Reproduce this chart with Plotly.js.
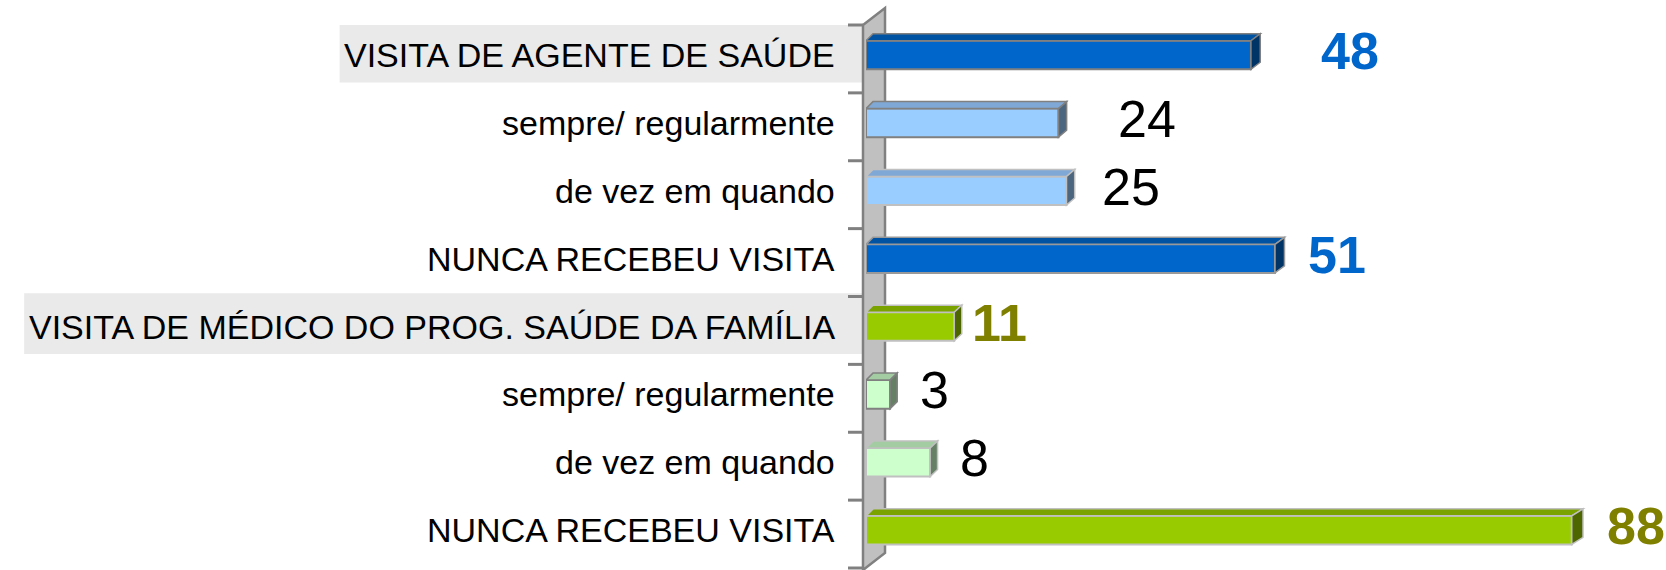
<!DOCTYPE html>
<html>
<head>
<meta charset="utf-8">
<script src="https://cdn.plot.ly/plotly-3.0.1.min.js"></script>
<style>html,body{margin:0;padding:0;background:#fff;}#chart{width:1666px;height:570px;}</style>
</head>
<body>
<div id="chart"></div>
<script>
// ---- data ----
const categories = [
  "VISITA DE AGENTE DE SAÚDE",
  "sempre/ regularmente",
  "de vez em quando",
  "NUNCA RECEBEU VISITA",
  "VISITA DE MÉDICO DO PROG. SAÚDE DA FAMÍLIA",
  "sempre/ regularmente",
  "de vez em quando",
  "NUNCA RECEBEU VISITA"
];
const values = [48, 24, 25, 51, 11, 3, 8, 88];
const headerRows = [0, 4];

// ---- styles ----
const frontColors = ["#0066CC", "#99CCFF", "#99CCFF", "#0066CC", "#99CC00", "#CCFFCC", "#CCFFCC", "#99CC00"];
const topColors   = ["#0052A3", "#7FA8D6", "#7FA8D6", "#0052A3", "#7AA300", "#A3CCA3", "#A3CCA3", "#7AA300"];
const sideColors  = ["#003366", "#4D6680", "#4D6680", "#003366", "#4D6600", "#668066", "#668066", "#4D6600"];
const borderColors = ["#808080", "#808080", "#C0C0C0", "#999999", "#C0C0C0", "#808080", "#C0C0C0", "#C0C0C0"];
const labelColors = ["#0066CC", "#000000", "#000000", "#0066CC", "#808000", "#000000", "#000000", "#808000"];
const labelBold = [true, false, false, true, true, false, false, true];
const labelGap = [68, 58, 33, 31, 16, 28, 28, 33];

const idx = categories.map((_, i) => i);
const PX_PER_X = 800 / 99.75;
const PX_PER_Y = 543 / 8;
const barW = 0.42;
const plotLeft = 866, plotTop = 25, plotW = 800, plotH = 543;
const px2paperX = p => (p - plotLeft) / plotW;
const px2paperY = p => 1 - (p - plotTop) / plotH;

const shapes = [];
const annotations = [];

// header backgrounds
const cv = document.createElement('canvas').getContext('2d');
cv.font = "34px 'Liberation Sans'";
headerRows.forEach(i => {
  const w = cv.measureText(categories[i]).width;
  shapes.push({type: 'rect', layer: 'below', xref: 'paper', yref: 'y',
    x0: px2paperX(837 - w - 3), x1: px2paperX(862), y0: i - 0.49, y1: i + 0.405,
    fillcolor: '#EAEAEA', line: {width: 0}});
});

// 3D wall
const wallPts = [[863, 25], [885, 8], [885, 553], [863, 570]];
shapes.push({type: 'path', layer: 'below', xref: 'paper', yref: 'paper',
  path: 'M' + wallPts.map(p => px2paperX(p[0]) + ',' + px2paperY(p[1])).join(' L') + ' Z',
  fillcolor: '#C0C0C0', line: {color: '#808080', width: 2.5}});

// ticks at category boundaries
for (let k = 0; k <= categories.length; k++) {
  const y = 1 - k / categories.length;
  shapes.push({type: 'line', xref: 'paper', yref: 'paper', x0: px2paperX(848), x1: px2paperX(863),
    y0: y, y1: y, line: {color: '#808080', width: 3}});
}

// 3D faces of bars
const dy = 7 / PX_PER_Y;
values.forEach((v, i) => {
  const yT = i - barW / 2, yB = i + barW / 2;
  const dxL = 7 / PX_PER_X;
  const dxR = (7 + 0.006 * v * PX_PER_X) / PX_PER_X;
  shapes.push({type: 'path', layer: 'above', xref: 'x', yref: 'y',
    path: `M0,${yT} L${v},${yT} L${v + dxR},${yT - dy} L${dxL},${yT - dy} Z`,
    fillcolor: topColors[i], line: {color: borderColors[i], width: 1.5}});
  shapes.push({type: 'path', layer: 'above', xref: 'x', yref: 'y',
    path: `M${v},${yT} L${v + dxR},${yT - dy} L${v + dxR},${yB - dy} L${v},${yB} Z`,
    fillcolor: sideColors[i], line: {color: borderColors[i], width: 1.5}});
});

// category labels
categories.forEach((c, i) => {
  annotations.push({xref: 'paper', yref: 'y', x: px2paperX(837), y: i, xanchor: 'right', yanchor: 'middle',
    text: c, showarrow: false, font: {family: "'Liberation Sans', Arial, sans-serif", size: 34, color: '#000'}});
});

// value labels
values.forEach((v, i) => {
  annotations.push({xref: 'x', yref: 'y', x: v, y: i, xanchor: 'left', yanchor: 'middle',
    xshift: labelGap[i], yshift: 4,
    text: labelBold[i] ? '<b>' + v + '</b>' : String(v), showarrow: false,
    font: {family: "'Liberation Sans', Arial, sans-serif", size: 52, color: labelColors[i]}});
});

const trace = {
  type: 'bar', orientation: 'h', x: values, y: idx, width: barW,
  marker: {color: frontColors, line: {color: borderColors, width: 2}},
  hoverinfo: 'skip'
};

const layout = {
  width: 1666, height: 570,
  margin: {l: plotLeft, r: 0, t: plotTop, b: 2},
  paper_bgcolor: '#fff', plot_bgcolor: 'rgba(0,0,0,0)',
  showlegend: false,
  xaxis: {range: [0, 99.75], visible: false, fixedrange: true},
  yaxis: {range: [7.558, -0.442], visible: false, fixedrange: true},
  shapes: shapes, annotations: annotations
};

Plotly.newPlot('chart', [trace], layout, {displayModeBar: false, staticPlot: true});
</script>
</body>
</html>
